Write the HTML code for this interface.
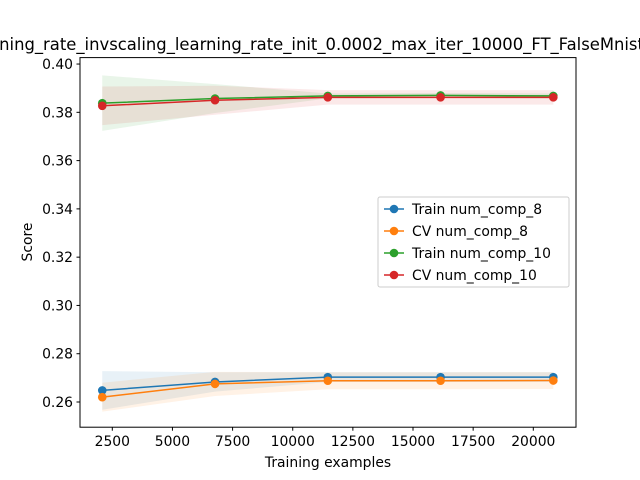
<!DOCTYPE html>
<html><head><meta charset="utf-8"><style>body{margin:0;background:#fff}svg{display:block;font-family:"DejaVu Sans","Liberation Sans",sans-serif}</style></head>
<body>
<svg id="chart" width="640" height="480" viewBox="0 0 640 480">
<rect width="640" height="480" fill="#fff"/>
<g id="bands"></g><g id="lines"></g>
<rect x="80" y="57.6" width="496" height="369.6" fill="none" stroke="#000" stroke-width="1"/>
<g id="xt"></g><g id="yt"></g>
<text x="-32" y="50" font-size="16.4">learning_rate_invscaling_learning_rate_init_0.0002_max_iter_10000_FT_FalseMnist</text>
<text x="328" y="467" font-size="13.9" text-anchor="middle">Training examples</text>
<text transform="translate(32,242) rotate(-90)" font-size="13.9" text-anchor="middle">Score</text>
<g id="legend"></g>
</svg>
<script>
const sizes=[2083,6770,11458,16145,20832];
const names=["Train num_comp_8","CV num_comp_8","Train num_comp_10","CV num_comp_10"];
const colors=["#1f77b4","#ff7f0e","#2ca02c","#d62728"];
const train8=[0.2648,0.2683,0.2703,0.2703,0.2703];
const cv8=[0.2620,0.2675,0.2688,0.2688,0.2689];
const train10=[0.3838,0.3857,0.3868,0.3870,0.3868];
const cv10=[0.3827,0.3850,0.3862,0.3862,0.3862];
const train8Std=[0.008,0.004,0.002,0.002,0.002];
const cv8Std=[0.006,0.005,0.0035,0.0035,0.0035];
const train10Std=[0.0115,0.006,0.001,0.001,0.001];
const cv10Std=[0.008,0.006,0.003,0.003,0.003];
const xTicks=[2500,5000,7500,10000,12500,15000,17500,20000];
const yTicks=[0.26,0.28,0.30,0.32,0.34,0.36,0.38,0.40];
const X=v=>112.3+(v-2500)*0.024057, Y=v=>402-(v-0.26)*2414;
const NS="http://www.w3.org/2000/svg";
function mk(t,a,p){const e=document.createElementNS(NS,t);for(const k in a)e.setAttribute(k,a[k]);p.appendChild(e);return e;}
const series=[train8,cv8,train10,cv10], stds=[train8Std,cv8Std,train10Std,cv10Std];
const bands=document.getElementById('bands'), lines=document.getElementById('lines');
series.forEach((s,i)=>{
 const up=s.map((v,j)=>X(sizes[j])+','+Y(v+stds[i][j])), lo=s.map((v,j)=>X(sizes[j])+','+Y(v-stds[i][j])).reverse();
 const b=mk('polygon',{points:up.concat(lo).join(' '),fill:colors[i],'fill-opacity':0.1},bands);
 
 
});
series.forEach((s,i)=>{
 const l=mk('polyline',{points:s.map((v,j)=>X(sizes[j])+','+Y(v)).join(' '),fill:'none',stroke:colors[i],'stroke-width':1.5},lines);
 
 
 s.forEach((v,j)=>{const c=mk('circle',{cx:X(sizes[j]),cy:Y(v),r:4.3,fill:colors[i]},lines);
 
 });
});
const xt=document.getElementById('xt');
xTicks.forEach(v=>{const x=X(v);mk('line',{x1:x,x2:x,y1:427.2,y2:430.7,stroke:'#000'},xt);
 const t=mk('text',{x:x,y:446,'font-size':13.9,'text-anchor':'middle'},xt);t.textContent=v;
 
 });
const yt=document.getElementById('yt');
yTicks.forEach(v=>{const y=Y(v);mk('line',{x1:76.5,x2:80,y1:y,y2:y,stroke:'#000'},yt);
 const t=mk('text',{x:73,y:y+5,'font-size':13.9,'text-anchor':'end'},yt);t.textContent=v.toFixed(2);
 
 });
const lg=document.getElementById('legend');
mk('rect',{x:378,y:197,width:191,height:90,rx:2,fill:'#fff','fill-opacity':0.8,stroke:'#ccc'},lg);
names.forEach((n,i)=>{const y=209+i*22;
 mk('line',{x1:384,x2:404,y1:y,y2:y,stroke:colors[i],'stroke-width':1.5},lg);
 mk('circle',{cx:394,cy:y,r:4.3,fill:colors[i]},lg);
 const t=mk('text',{x:412,y:y+5,'font-size':13.9},lg);t.textContent=n;
 
 });
</script>
</body></html>
